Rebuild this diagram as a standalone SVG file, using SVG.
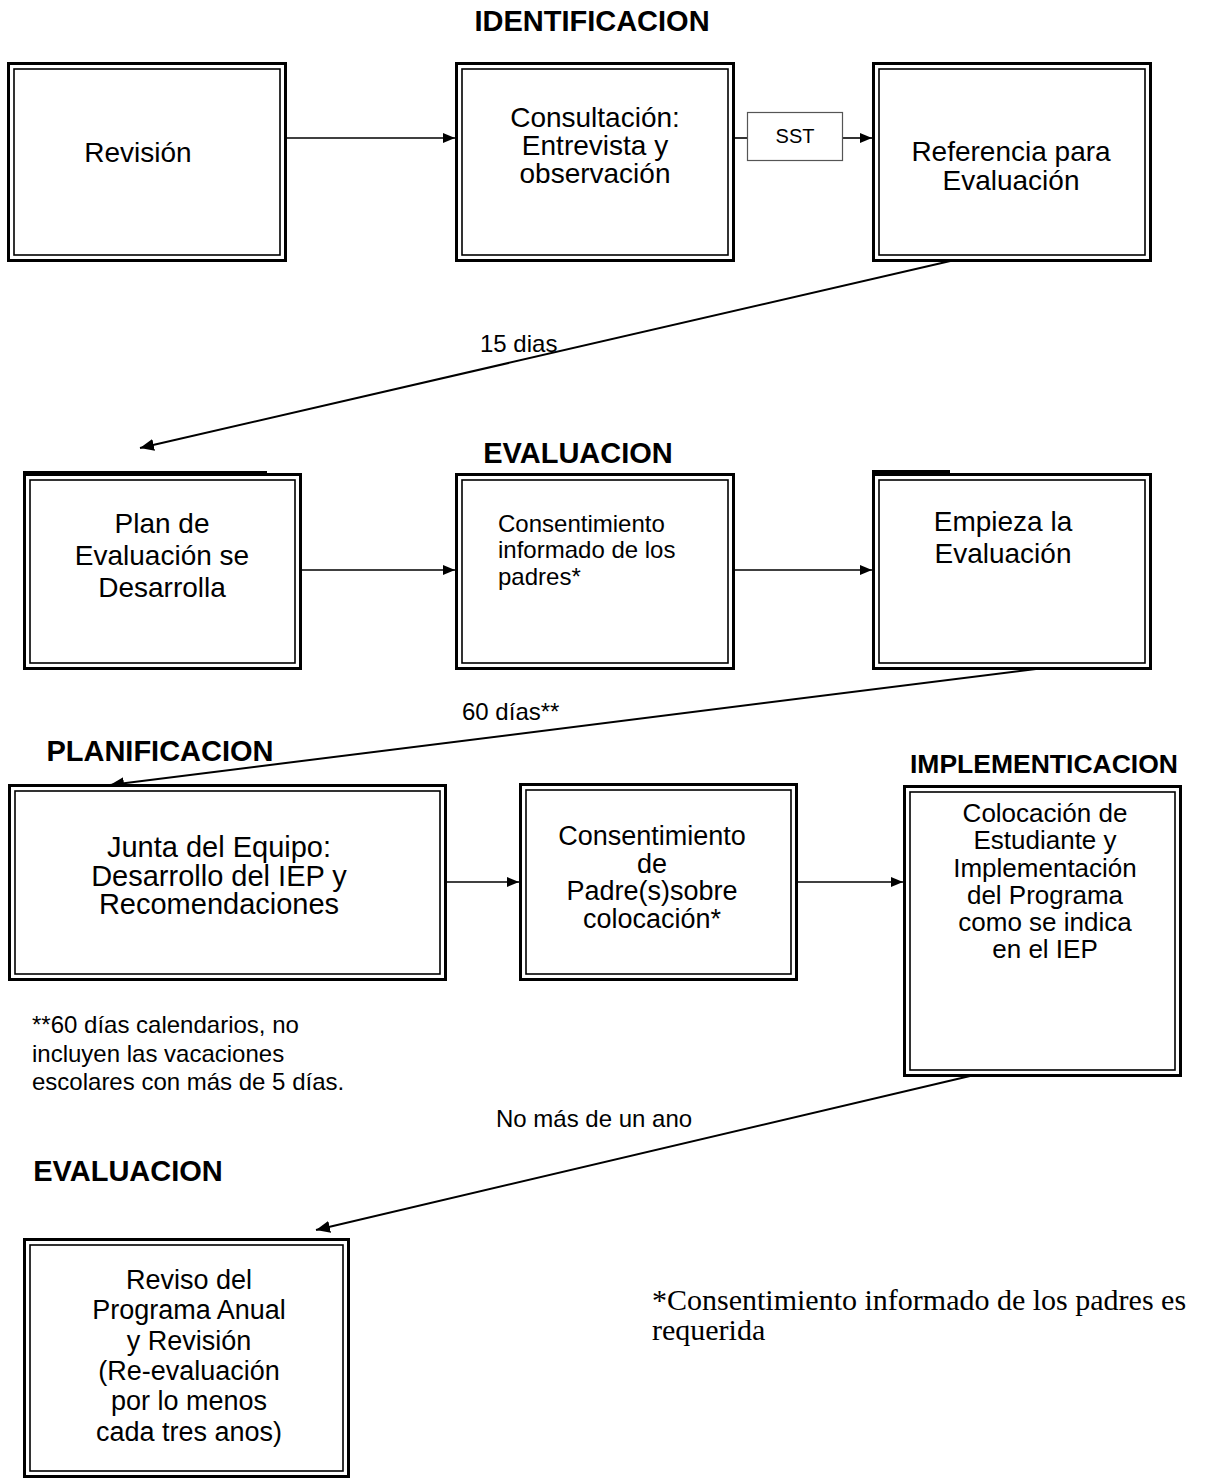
<svg xmlns="http://www.w3.org/2000/svg" width="1217" height="1480" viewBox="0 0 1217 1480">
<style>
.o{fill:#fff;stroke:#000;stroke-width:3}
.i{fill:none;stroke:#000;stroke-width:1.6}
.t{font-family:"Liberation Sans",Arial,sans-serif;font-size:28px;fill:#000}
.h{font-weight:bold;font-size:29px}
.s{font-size:24px}
.f{font-family:"Liberation Serif","Times New Roman",serif;font-size:30px;fill:#000}
.c{stroke:#000;stroke-width:1.6;fill:none}
.c2{stroke:#000;stroke-width:2;fill:none}
</style>
<defs>
<marker id="ah" viewBox="0 0 12 10" refX="12" refY="5" markerWidth="12" markerHeight="10" markerUnits="userSpaceOnUse" orient="auto">
<path d="M0,0 L12,5 L0,10 Z" fill="#000"/>
</marker>
<marker id="ah2" viewBox="0 0 14 12" refX="14" refY="6" markerWidth="14" markerHeight="12" markerUnits="userSpaceOnUse" orient="auto">
<path d="M0,0 L14,6 L0,12 Z" fill="#000"/>
</marker>
</defs>
<rect width="1217" height="1480" fill="#fff"/>

<g id="headings">
<text class="t h" x="592" y="31" text-anchor="middle">IDENTIFICACION</text>
<text class="t h" x="578" y="463" text-anchor="middle">EVALUACION</text>
<text class="t h" x="160" y="761" text-anchor="middle">PLANIFICACION</text>
<text class="t h" x="910" y="773" style="font-size:26.5px">IMPLEMENTICACION</text>
<text class="t h" x="128" y="1181" text-anchor="middle">EVALUACION</text>
</g>

<g id="connectors">
<line class="c" x1="287" y1="138" x2="455" y2="138" marker-end="url(#ah)"/>
<line class="c" x1="735" y1="138" x2="747" y2="138"/>
<line class="c" x1="843" y1="138" x2="872" y2="138" marker-end="url(#ah)"/>
<line class="c2" x1="972" y1="256" x2="140" y2="448" marker-end="url(#ah2)"/>
<line class="c" x1="302" y1="570" x2="455" y2="570" marker-end="url(#ah)"/>
<line class="c" x1="735" y1="570" x2="872" y2="570" marker-end="url(#ah)"/>
<line class="c2" x1="1068" y1="665" x2="110" y2="785" marker-end="url(#ah2)"/>
<line class="c" x1="447" y1="882" x2="519" y2="882" marker-end="url(#ah)"/>
<line class="c" x1="798" y1="882" x2="903" y2="882" marker-end="url(#ah)"/>
<line class="c2" x1="970" y1="1076" x2="316" y2="1230" marker-end="url(#ah2)"/>
<text class="t s" x="480" y="352">15 dias</text>
<text class="t s" x="462" y="720">60 días**</text>
<text class="t s" x="496" y="1127">No más de un ano</text>
</g>

<g id="sst">
<rect x="747.5" y="112.5" width="95" height="48" fill="#fff" stroke="#555" stroke-width="1.2"/>
<text class="t" style="font-size:20px" x="795" y="143" text-anchor="middle">SST</text>
</g>

<g id="n1">
<rect class="o" x="8.5" y="63.5" width="277" height="197"/>
<rect class="i" x="14" y="69" width="266" height="186"/>
<text class="t" x="138" y="162" text-anchor="middle">Revisión</text>
</g>

<g id="n2">
<rect class="o" x="456.5" y="63.5" width="277" height="197"/>
<rect class="i" x="462" y="69" width="266" height="186"/>
<text class="t" text-anchor="middle"><tspan x="595" y="127">Consultación:</tspan><tspan x="595" y="155">Entrevista y</tspan><tspan x="595" y="183">observación</tspan></text>
</g>

<g id="n3">
<rect class="o" x="873.5" y="63.5" width="277" height="197"/>
<rect class="i" x="879" y="69" width="266" height="186"/>
<text class="t" text-anchor="middle"><tspan x="1011" y="161">Referencia para</tspan><tspan x="1011" y="190">Evaluación</tspan></text>
</g>

<g id="n4">
<rect class="o" x="24.5" y="474.5" width="276" height="194"/>
<rect class="i" x="30" y="480" width="265" height="183"/>
<line x1="23" y1="472.5" x2="267" y2="472.5" stroke="#000" stroke-width="3"/>
<text class="t" text-anchor="middle"><tspan x="162" y="533">Plan de</tspan><tspan x="162" y="565">Evaluación se</tspan><tspan x="162" y="597">Desarrolla</tspan></text>
</g>

<g id="n5">
<rect class="o" x="456.5" y="474.5" width="277" height="194"/>
<rect class="i" x="462" y="480" width="266" height="183"/>
<text class="t s"><tspan x="498" y="532">Consentimiento</tspan><tspan x="498" y="558">informado de los</tspan><tspan x="498" y="585">padres*</tspan></text>
</g>

<g id="n6">
<rect class="o" x="873.5" y="474.5" width="277" height="194"/>
<rect class="i" x="879" y="480" width="266" height="183"/>
<line x1="872" y1="471.5" x2="950" y2="471.5" stroke="#000" stroke-width="3"/>
<text class="t" text-anchor="middle"><tspan x="1003" y="531">Empieza la</tspan><tspan x="1003" y="563">Evaluación</tspan></text>
</g>

<g id="n7">
<rect class="o" x="9.5" y="785.5" width="436" height="194"/>
<rect class="i" x="15" y="791" width="425" height="183"/>
<text class="t" style="font-size:29px" text-anchor="middle"><tspan x="219" y="857">Junta del Equipo:</tspan><tspan x="219" y="886">Desarrollo del IEP y</tspan><tspan x="219" y="914">Recomendaciones</tspan></text>
</g>

<g id="n8">
<rect class="o" x="520.5" y="784.5" width="276" height="195"/>
<rect class="i" x="526" y="790" width="265" height="184"/>
<text class="t" style="font-size:27px" text-anchor="middle"><tspan x="652" y="845">Consentimiento</tspan><tspan x="652" y="873">de</tspan><tspan x="652" y="900">Padre(s)sobre</tspan><tspan x="652" y="928">colocación*</tspan></text>
</g>

<g id="n9">
<rect class="o" x="904.5" y="786.5" width="276" height="289"/>
<rect class="i" x="910" y="792" width="265" height="278"/>
<text class="t" style="font-size:26px" text-anchor="middle"><tspan x="1045" y="822">Colocación de</tspan><tspan x="1045" y="849">Estudiante y</tspan><tspan x="1045" y="877">Implementación</tspan><tspan x="1045" y="904">del Programa</tspan><tspan x="1045" y="931">como se indica</tspan><tspan x="1045" y="958">en el IEP</tspan></text>
</g>

<g id="n10">
<rect class="o" x="24.5" y="1239.5" width="324" height="237"/>
<rect class="i" x="30" y="1245" width="313" height="226"/>
<text class="t" style="font-size:27px" text-anchor="middle"><tspan x="189" y="1289">Reviso del</tspan><tspan x="189" y="1319">Programa Anual</tspan><tspan x="189" y="1350">y Revisión</tspan><tspan x="189" y="1380">(Re-evaluación</tspan><tspan x="189" y="1410">por lo menos</tspan><tspan x="189" y="1441">cada tres anos)</tspan></text>
</g>

<g id="notes">
<text class="t s"><tspan x="32" y="1033">**60 días calendarios, no</tspan><tspan x="32" y="1062">incluyen las vacaciones</tspan><tspan x="32" y="1090">escolares con más de 5 días.</tspan></text>
<text class="f"><tspan x="652" y="1310">*Consentimiento informado de los padres es</tspan><tspan x="652" y="1340">requerida</tspan></text>
</g>
</svg>
